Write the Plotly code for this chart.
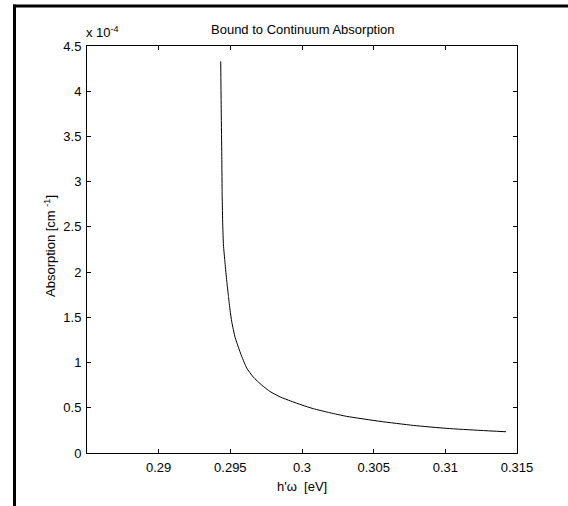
import plotly.graph_objects as go

# Data (photon energy in eV, absorption in units of 1e-4 cm^-1)
energy_ev = [0.29433, 0.29436, 0.29440, 0.29443, 0.29447, 0.29452, 0.29463, 0.29475,
             0.29487, 0.29498, 0.29510, 0.29533, 0.29556, 0.29579, 0.29614, 0.29660,
             0.29720, 0.29777, 0.29847, 0.29920, 0.30000, 0.30079, 0.30195, 0.30312,
             0.30544, 0.30777, 0.31010, 0.31242, 0.31423]
absorption_e4 = [4.33, 3.85, 3.35, 2.85, 2.52, 2.30, 2.10, 1.90,
                 1.73, 1.58, 1.45, 1.28, 1.17, 1.07, 0.94, 0.84,
                 0.75, 0.68, 0.62, 0.575, 0.53, 0.49, 0.445, 0.405,
                 0.35, 0.305, 0.272, 0.25, 0.235]
x_ticks = [0.29, 0.295, 0.30, 0.305, 0.31, 0.315]
x_tick_text = ["0.29", "0.295", "0.3", "0.305", "0.31", "0.315"]
y_ticks = [0, 0.5, 1, 1.5, 2, 2.5, 3, 3.5, 4, 4.5]
y_tick_text = ["0", "0.5", "1", "1.5", "2", "2.5", "3", "3.5", "4", "4.5"]

W, H = 568, 506
L, R, T, B = 87, 51, 46, 53
pw, ph = W - L - R, H - T - B


def px(xp):
    return (xp - L) / pw


def py(yp):
    return (H - B - yp) / ph


FONT = "Liberation Sans, Arial, sans-serif"
FS = 13

fig = go.Figure()
fig.add_trace(go.Scatter(x=energy_ev, y=absorption_e4, mode="lines",
                         line=dict(color="black", width=1, shape="spline", smoothing=0.5),
                         showlegend=False))

axis_common = dict(showline=True, linecolor="black", linewidth=1, mirror="ticks",
                   ticks="inside", ticklen=4, tickcolor="black", tickwidth=1,
                   showgrid=False, zeroline=False,
                   tickfont=dict(family=FONT, size=FS, color="black"))

fig.update_xaxes(range=[0.285, 0.315], tickvals=x_ticks, ticktext=x_tick_text,
                 ticklabelstandoff=2, **axis_common)
fig.update_yaxes(range=[0, 4.5], tickvals=y_ticks, ticktext=y_tick_text,
                 ticklabelstandoff=2, **axis_common)

annots = [
    dict(text="Bound to Continuum Absorption", x=px(303), y=py(29), xanchor="center", yanchor="middle"),
    dict(text="h'ω&nbsp; [eV]", x=px(302), y=py(487), xanchor="center", yanchor="middle"),
    dict(text="Absorption [cm <sup>-1</sup>]", x=px(50), y=py(246), xanchor="center", yanchor="middle",
         textangle=-90),
    dict(text="x 10<sup>-4</sup>", x=px(84), y=py(42), xanchor="left", yanchor="bottom"),
]
for a in annots:
    a.update(xref="paper", yref="paper", showarrow=False,
             font=dict(family=FONT, size=FS, color="black"))

shapes = [
    dict(type="line", xref="paper", yref="paper", x0=px(13), x1=px(570), y0=py(6), y1=py(6),
         line=dict(color="black", width=3)),
    dict(type="line", xref="paper", yref="paper", x0=px(14.5), x1=px(14.5), y0=py(4.5), y1=py(510),
         line=dict(color="black", width=3)),
]

fig.update_layout(width=W, height=H, margin=dict(l=L, r=R, t=T, b=B, pad=0),
                  paper_bgcolor="white", plot_bgcolor="white",
                  font=dict(family=FONT, size=FS, color="black"),
                  annotations=annots, shapes=shapes)

fig.write_html("out.html")
